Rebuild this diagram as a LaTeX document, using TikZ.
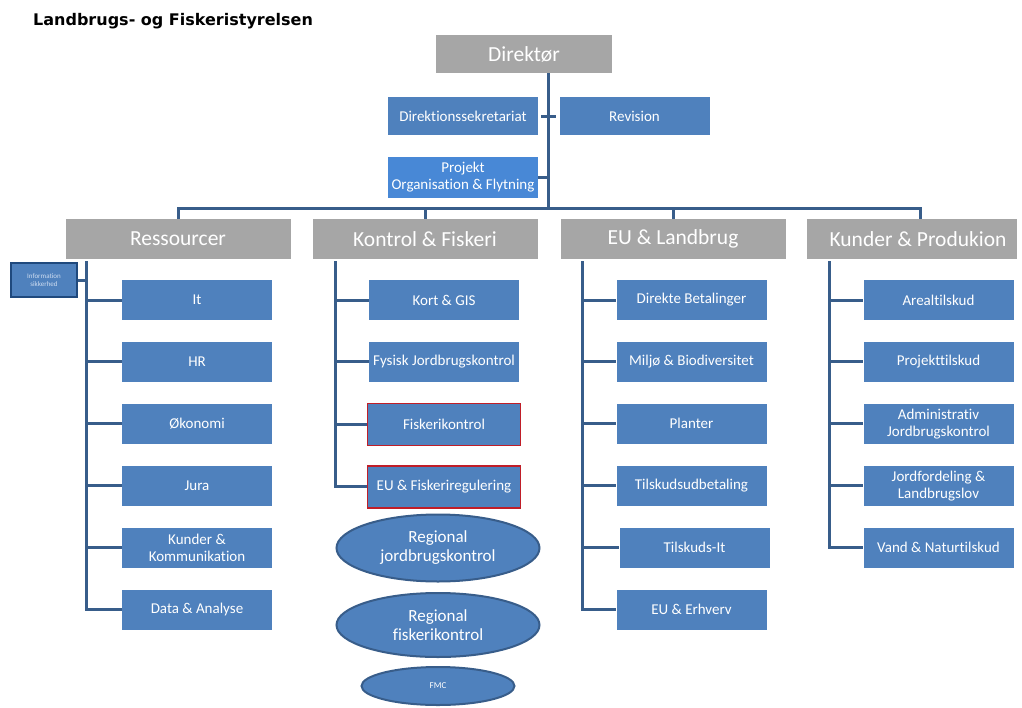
\documentclass[tikz,border=0pt]{standalone}
\usepackage{fontspec}
\setmainfont{Carlito}[Ligatures=NoCommon]
\newfontfamily\titlefamily{DejaVu Sans}
\usepackage{tikz}
\usepackage{xcolor}
\usetikzlibrary{shapes.geometric, positioning, calc}
\definecolor{unitblue}{RGB}{79, 129, 189}
\definecolor{projblue}{RGB}{72, 136, 214}
\definecolor{headgray}{RGB}{166, 166, 166}
\definecolor{lineblue}{RGB}{56, 93, 138}
\definecolor{flagred}{RGB}{192, 30, 40}
\definecolor{infoborder}{RGB}{31, 73, 125}
\definecolor{infotext}{RGB}{205, 220, 240}

\begin{document}
\begin{tikzpicture}[
	x=1pt, y=-1pt,
	% Node styles for the organisation chart
	title/.style={
			anchor=west,
			inner sep=0pt,
			font=\titlefamily\bfseries\fontsize{16}{19}\selectfont,
			text=black
		},
	head/.style={
			rectangle,
			minimum width=225pt,
			minimum height=40pt,
			inner sep=0pt,
			fill=headgray,
			text=white,
			font=\fontsize{21.5}{25}\selectfont
		},
	unit/.style={
			rectangle,
			minimum width=150pt,
			minimum height=40pt,
			inner sep=0pt,
			fill=unitblue,
			text=white,
			align=center,
			font=\fontsize{15}{17}\selectfont
		},
	flagged/.style={
			unit,
			minimum width=153pt,
			minimum height=42pt,
			draw=flagred,
			line width=1.5pt
		},
	regional/.style={
			ellipse,
			inner sep=0pt,
			fill=unitblue,
			draw=lineblue,
			line width=2pt,
			text=white,
			align=center,
			font=\fontsize{17}{19}\selectfont
		},
	infobox/.style={
			rectangle,
			minimum width=66pt,
			minimum height=34pt,
			inner sep=0pt,
			fill=unitblue,
			draw=infoborder,
			line width=2.5pt,
			text=infotext,
			align=center,
			font=\fontsize{7}{8}\selectfont
		},
	orgline/.style={
			draw=lineblue,
			line width=3pt
		}
	]
	\useasboundingbox (0,0) rectangle (1022,707);

	% Title and management
	\node[title] (title) at (33,21) {Landbrugs- og Fiskeristyrelsen};
	\node[head, minimum width=176pt, minimum height=38pt] (dir) at (524,54) {Direktør};
	\node[unit, minimum height=38pt] (sekr) at (463,116) {Direktionssekretariat};
	\node[unit, minimum height=38pt] (rev) at (634.5,116) {Revision};
	\node[unit, fill=projblue, minimum height=41pt] (proj) at (463,177.5) {Projekt\\Organisation \& Flytning};
	\coordinate (bus) at (548,208);

	% Division heads
	\node[head] (res) at (178,239) {Ressourcer};
	\node[head] (kon) at (425,239) {Kontrol \& Fiskeri};
	\node[head] (eul) at (673,239) {EU \& Landbrug};
	\node[head, minimum width=210pt] (kun) at (912,239) {\hspace*{12pt}Kunder \& Produkion};

	% Ressourcer
	\node[infobox] (info) at (44,280) {Information\\sikkerhed};
	\node[unit] (it) at (197,300) {It};
	\node[unit, below=21.5pt of it] (hr) {HR};
	\node[unit, below=21.5pt of hr] (oek) {Økonomi};
	\node[unit, below=21.5pt of oek] (jura) {Jura};
	\node[unit, below=21.5pt of jura] (kom) {Kunder \&\\Kommunikation};
	\node[unit, below=21.5pt of kom] (data) {Data \& Analyse};

	% Kontrol & Fiskeri
	\node[unit] (gis) at (444,300) {Kort \& GIS};
	\node[unit, below=21.5pt of gis] (fysisk) {Fysisk Jordbrugskontrol};
	\node[flagged, below=20.5pt of fysisk] (fisk) {Fiskerikontrol};
	\node[flagged, below=19pt of fisk] (regul) {EU \& Fiskeriregulering};
	\node[regional, minimum width=203pt, minimum height=67pt] (regjord) at (438,548) {Regional\\jordbrugskontrol};
	\node[regional, minimum width=203pt, minimum height=64pt] (regfisk) at (438,625) {Regional\\fiskerikontrol};
	\node[regional, minimum width=153pt, minimum height=38pt, font=\fontsize{9}{10}\selectfont] (fmc) at (438,686) {FMC};

	% EU & Landbrug
	\node[unit] (betal) at (691.5,300) {Direkte Betalinger};
	\node[unit, below=21.5pt of betal] (miljo) {Miljø \& Biodiversitet};
	\node[unit, below=21.5pt of miljo] (plant) {Planter};
	\node[unit, below=21.5pt of plant] (udbet) {Tilskudsudbetaling};
	\node[unit, below=21.5pt of udbet, xshift=3pt] (tilit) {Tilskuds-It};
	\node[unit, below=21.5pt of tilit, xshift=-3pt] (erhv) {EU \& Erhverv};

	% Kunder & Produkion
	\node[unit] (areal) at (938.5,300) {Arealtilskud};
	\node[unit, below=21.5pt of areal] (projtil) {Projekttilskud};
	\node[unit, below=21.5pt of projtil] (admin) {Administrativ\\Jordbrugskontrol};
	\node[unit, below=21.5pt of admin] (jordf) {Jordfordeling \&\\Landbrugslov};
	\node[unit, below=21.5pt of jordf] (vand) {Vand \& Naturtilskud};

	% Management lines
	\draw[orgline] (bus |- dir.south) -- (bus);
	\draw[orgline, shorten <=3pt, shorten >=3pt] (sekr.east) -- (rev.west);
	\draw[orgline] (proj.east) -- (proj.east -| bus);
	\draw[orgline] (res.north) -- (res.north |- bus) -| ([xshift=8pt]kun.north);
	\draw[orgline] (kon.north) -- (kon.north |- bus);
	\draw[orgline] (eul.north) -- (eul.north |- bus);

	% Division trunks
	\coordinate (restop) at (86,261);
	\coordinate (kontop) at (335,261);
	\coordinate (eultop) at (582,261);
	\coordinate (kuntop) at (829,261);

	\draw[orgline] (restop) |- (data.west);
	\draw[orgline] (info.east) -- (restop |- info.east);
	\draw[orgline] (restop |- it.west) -- (it.west);
	\draw[orgline] (restop |- hr.west) -- (hr.west);
	\draw[orgline] (restop |- oek.west) -- (oek.west);
	\draw[orgline] (restop |- jura.west) -- (jura.west);
	\draw[orgline] (restop |- kom.west) -- (kom.west);

	\draw[orgline] (kontop) |- (regul.west);
	\draw[orgline] (kontop |- gis.west) -- (gis.west);
	\draw[orgline] (kontop |- fysisk.west) -- (fysisk.west);
	\draw[orgline] (kontop |- fisk.west) -- (fisk.west);

	\draw[orgline] (eultop) |- (erhv.west);
	\draw[orgline] (eultop |- betal.west) -- (betal.west);
	\draw[orgline] (eultop |- miljo.west) -- (miljo.west);
	\draw[orgline] (eultop |- plant.west) -- (plant.west);
	\draw[orgline] (eultop |- udbet.west) -- (udbet.west);
	\draw[orgline] (eultop |- tilit.west) -- (tilit.west);

	\draw[orgline] (kuntop) |- (vand.west);
	\draw[orgline] (kuntop |- areal.west) -- (areal.west);
	\draw[orgline] (kuntop |- projtil.west) -- (projtil.west);
	\draw[orgline] (kuntop |- admin.west) -- (admin.west);
	\draw[orgline] (kuntop |- jordf.west) -- (jordf.west);

\end{tikzpicture}
\end{document}
